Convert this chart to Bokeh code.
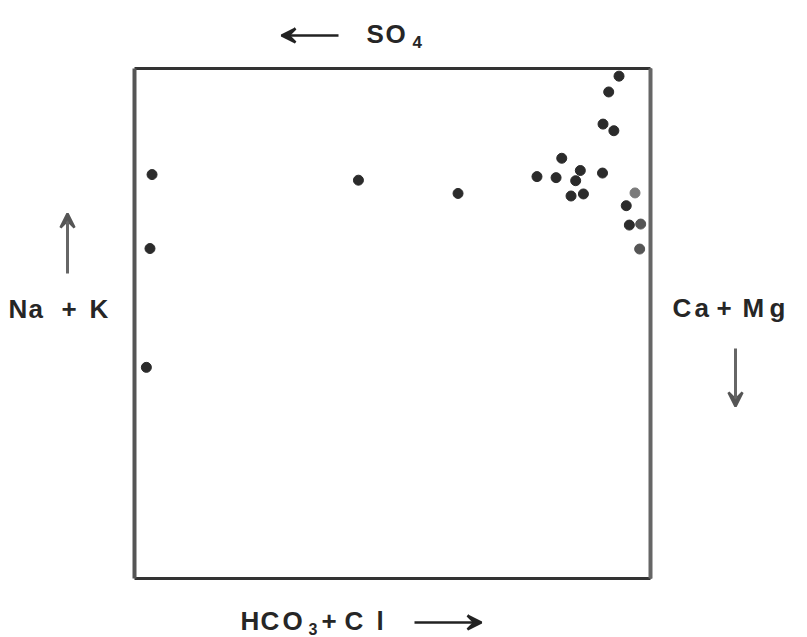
from bokeh.plotting import figure
from bokeh.models import ColumnDataSource, Range1d, Label, Arrow, VeeHead
from bokeh.embed import file_html
from bokeh.resources import INLINE

# Percent of HCO3+Cl (x) and percent of Na+K (y)
hco3_cl = [93.9, 91.9, 90.8, 92.9, 82.8, 86.4, 78.0, 81.7, 85.5, 90.7, 84.6,
           87.0, 97.0, 95.3, 95.9, 98.1, 97.9, 3.4, 43.4, 62.7, 3.0, 2.3]
na_k = [98.5, 95.4, 89.1, 87.8, 82.4, 80.0, 78.8, 78.6, 78.0, 79.5, 75.0,
        75.4, 75.6, 73.1, 69.3, 69.5, 64.6, 79.2, 78.1, 75.5, 64.7, 41.4]
shade = ["#2b2b2b"] * 12 + ["#7a7a7a"] + ["#2b2b2b"] * 2 + ["#555555", "#555555"] + ["#2b2b2b"] * 5

# diagram square bounds (percent)
box_lo, box_hi = 0, 100

W, H = 807, 637
FL, FR, FT, FB = 134, 650, 68, 578
SX = (FR - FL) / 100.0
SY = (FB - FT) / 100.0

p = figure(width=W, height=H, output_backend="svg", toolbar_location=None,
           x_axis_type=None, y_axis_type=None,
           x_range=Range1d(-FL / SX, (W - FL) / SX),
           y_range=Range1d(-(H - FB) / SY, FB / SY),
           min_border_left=0, min_border_right=0,
           min_border_top=0, min_border_bottom=0)
p.xgrid.visible = False
p.ygrid.visible = False
p.outline_line_color = None
p.background_fill_color = "white"
p.border_fill_color = "white"

# diagram box
p.segment(x0=[box_lo, box_hi], y0=[box_hi, box_lo], x1=[box_hi, box_hi], y1=[box_hi, box_hi],
          line_color="#333333", line_width=3)
p.segment(x0=[box_lo, box_lo], y0=[box_lo, box_lo], x1=[box_hi, box_lo], y1=[box_lo, box_hi],
          line_color=["#333333", "#555555"], line_width=[3, 4])
p.segment(x0=[box_hi], y0=[box_lo], x1=[box_hi], y1=[box_hi], line_color="#666666", line_width=4)

src = ColumnDataSource(dict(x=hco3_cl, y=na_k, c=shade))
p.scatter("x", "y", source=src, size=10, fill_color="c", line_color="c")


def dx(px):
    return (px - FL) / SX


def dy(py):
    return (FB - py) / SY


FONT = "Liberation Sans"
TXT = "#262626"


def add_chars(chars, y, size="26px"):
    for ch, x in chars:
        p.add_layout(Label(x=dx(x), y=dy(y), text=ch, text_font=FONT,
                           text_font_size=size, text_font_style="bold",
                           text_color=TXT, text_baseline="alphabetic",
                           text_align="left"))


# Top: <-- SO4
add_chars([("S", 366), ("O", 385)], 33)
add_chars([("4", 412)], 41, "17px")
p.add_layout(Arrow(x_start=dx(338), y_start=dy(35), x_end=dx(281), y_end=dy(35),
                   line_color="#222222", line_width=2.5,
                   end=VeeHead(size=14, line_color="#222222", line_width=2.5, fill_color="#222222")))

# Bottom: HCO3 + Cl -->
add_chars([("H", 240), ("C", 260), ("O", 282), ("+", 321), ("C", 344), ("l", 376)], 620)
add_chars([("3", 308)], 628, "16px")
p.add_layout(Arrow(x_start=dx(414), y_start=dy(622), x_end=dx(481), y_end=dy(622),
                   line_color="#222222", line_width=2.5,
                   end=VeeHead(size=14, line_color="#222222", line_width=2.5, fill_color="#222222")))

# Left: Na + K with up arrow
add_chars([("N", 8), ("a", 28), ("+", 61), ("K", 89)], 308)
p.add_layout(Arrow(x_start=dx(67), y_start=dy(273), x_end=dx(67), y_end=dy(213),
                   line_color="#666666", line_width=3,
                   end=VeeHead(size=14, line_color="#555555", line_width=2.5, fill_color="#555555")))

# Right: Ca + Mg with down arrow
add_chars([("C", 672), ("a", 694), ("+", 716), ("M", 742), ("g", 769)], 307)
p.add_layout(Arrow(x_start=dx(735), y_start=dy(348), x_end=dx(735), y_end=dy(406),
                   line_color="#666666", line_width=3,
                   end=VeeHead(size=14, line_color="#555555", line_width=2.5, fill_color="#555555")))

open("out.html", "w").write(file_html(p, INLINE))
